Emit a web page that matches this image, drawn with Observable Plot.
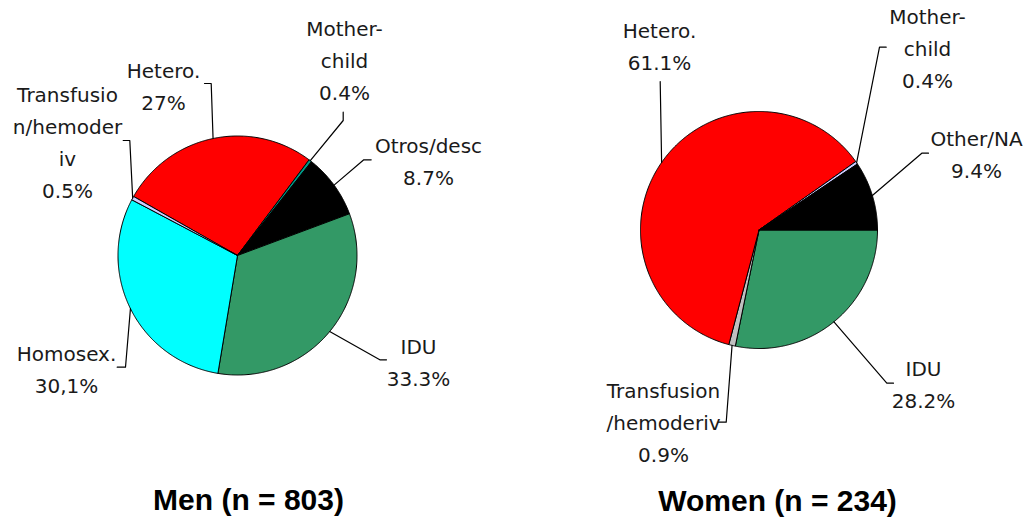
<!DOCTYPE html>
<html><head><meta charset="utf-8">
<script src="https://cdn.jsdelivr.net/npm/d3@7"></script>
<script src="https://cdn.jsdelivr.net/npm/@observablehq/plot@0.6"></script>
<style>
body{margin:0;background:#fff}
#chart{display:flex;width:1026px;height:520px;background:#fff}
</style>
</head><body><div id="chart"></div>
<script>
// ---- data ----
const menCategories = ["Hetero.", "Mother-child", "Otros/desc", "IDU", "Homosex.", "Transfusion/hemoderiv"];
const menValues = [27, 0.4, 8.7, 33.3, 30.1, 0.5];
const menLabels = ["Hetero.\n27%", "Mother-\nchild\n0.4%", "Otros/desc\n8.7%", "IDU\n33.3%", "Homosex.\n30,1%", "Transfusio\nn/hemoder\niv\n0.5%"];
const menColors = ["#ff0000", "#009988", "#000000", "#339966", "#00ffff", "#ccccff"];
const menTitle = "Men (n = 803)";

const womenCategories = ["IDU", "Transfusion/hemoderiv", "Hetero.", "Mother-child", "Other/NA"];
const womenValues = [28.2, 0.9, 61.1, 0.4, 9.4];
const womenLabels = ["IDU\n28.2%", "Transfusion\n/hemoderiv\n0.9%", "Hetero.\n61.1%", "Mother-\nchild\n0.4%", "Other/NA\n9.4%"];
const womenColors = ["#339966", "#c0c0c0", "#ff0000", "#ccccff", "#000000"];
const womenTitle = "Women (n = 234)";

// ---- layout (pixels within each 513x520 panel) ----
const W = 513, H = 520;
const menLayout = {
  cx: 237, cy: 255, r: 119.5, start: -60.4,
  title: [248, 499.5],
  labels: [
    {at: [163, 82.8],  via: [[204, 83], [210.7, 83]]},
    {at: [344, 56.8],  via: [[342.7, 111.7], [342.7, 120]]},
    {at: [428, 157.8], via: [[370.7, 159.3], [363.3, 159.3]]},
    {at: [418, 359],   via: [[386, 359.3], [379.3, 359.3]]},
    {at: [66, 366.5],  via: [[116.7, 366.7], [125, 366.7]]},
    {at: [67, 139],    via: [[122.7, 140], [129.3, 140]]}
  ]
};
const womenLayout = {
  cx: 245.5, cy: 229.5, r: 118.5, start: 90,
  title: [264, 500.5],
  labels: [
    {at: [410, 381.2], via: [[380, 382.7], [373.3, 382.7]]},
    {at: [150, 419.3], via: [[205, 421.7], [212.7, 421.7]]},
    {at: [146, 43.7],  via: [[146.7, 81]]},
    {at: [414, 45.5],  via: [[372.7, 46.7], [366, 46.7]]},
    {at: [463, 151],   via: [[415, 152.7], [408.3, 152.7]]}
  ]
};

function panel(cats, vals, labels, colors, title, L) {
  const toU = ([px, py]) => [(px - L.cx) / L.r, (py - L.cy) / L.r];
  const s = L.start * Math.PI / 180;
  const arcs = d3.pie().sort(null).value(d => d).startAngle(s).endAngle(s + 2 * Math.PI)(vals);
  const wedge = [];
  const leaders = [];
  const texts = [];
  arcs.forEach((a, i) => {
    const n = Math.max(2, Math.ceil((a.endAngle - a.startAngle) / (Math.PI / 360)));
    wedge.push({k: cats[i], x: 0, y: 0});
    for (let j = 0; j <= n; j++) {
      const t = a.startAngle + (a.endAngle - a.startAngle) * j / n;
      wedge.push({k: cats[i], x: Math.sin(t), y: -Math.cos(t)});
    }
    wedge.push({k: cats[i], x: 0, y: 0});
    const m = (a.startAngle + a.endAngle) / 2;
    const lab = L.labels[i];
    lab.via.forEach(p => { const [x, y] = toU(p); leaders.push({k: cats[i], x, y}); });
    leaders.push({k: cats[i], x: Math.sin(m), y: -Math.cos(m)});
    const [tx, ty] = toU(lab.at);
    texts.push({text: labels[i], x: tx, y: ty});
  });
  const [ttx, tty] = toU(L.title);
  return Plot.plot({
    width: W, height: H, margin: 0,
    x: {domain: [-L.cx / L.r, (W - L.cx) / L.r], range: [0, W], axis: null},
    y: {domain: [-L.cy / L.r, (H - L.cy) / L.r], range: [0, H], axis: null},
    color: {domain: cats, range: colors},
    style: {background: "#fff", overflow: "visible"},
    marks: [
      Plot.line(wedge, {x: "x", y: "y", z: "k", fill: "k", stroke: "#000", strokeWidth: 1, strokeLinejoin: "round"}),
      Plot.line(leaders, {x: "x", y: "y", z: "k", stroke: "#000", strokeWidth: 1.2}),
      Plot.text(texts, {x: "x", y: "y", text: "text", fontSize: 20, lineHeight: 1.6, fontFamily: "DejaVu Sans", fill: "#1a1a1a"}),
      Plot.text([title], {x: () => ttx, y: () => tty, text: d => d, fontSize: 30, fontWeight: "bold", fontFamily: "Liberation Sans", fill: "#000"})
    ]
  });
}

const chart = document.getElementById("chart");
chart.append(panel(menCategories, menValues, menLabels, menColors, menTitle, menLayout));
chart.append(panel(womenCategories, womenValues, womenLabels, womenColors, womenTitle, womenLayout));
</script>
</body></html>
